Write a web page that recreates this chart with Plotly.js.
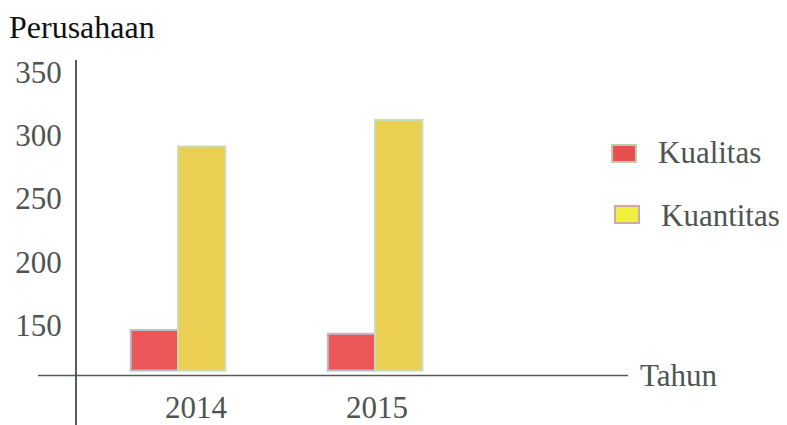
<!DOCTYPE html>
<html>
<head>
<meta charset="utf-8">
<script src="https://cdn.plot.ly/plotly-3.0.1.min.js"></script>
<style>html,body{margin:0;padding:0;background:#fff;}#chart{width:787px;height:425px;}</style>
</head>
<body>
<div id="chart"></div>
<script>
// ---- data ----
const years = ['2014', '2015'];
const kualitas = [146, 143];
const kuantitas = [291, 312];
const seriesNames = ['Kualitas', 'Kuantitas'];
const yTicks = [150, 200, 250, 300, 350];
const yTitle = 'Perusahaan';
const xTitle = 'Tahun';

// ---- layout helpers (pixel -> paper) ----
const W = 787, H = 425;
const L = 38, R = 628, T = 60, B = 425;
const px = x => (x - L) / (R - L);
const py = y => (B - y) / (B - T);

const BASE = 114;
const FONT = 'Liberation Serif, Times New Roman, serif';
const TXT = '#4e5451';
const AX = '#555c58';
const FS = 31;

const traces = [
  {
    type: 'bar', name: seriesNames[0], x: years,
    y: kualitas.map(v => v - BASE), base: BASE,
    marker: {color: '#ec5656', line: {color: '#b9bdd0', width: 2}},
    showlegend: false
  },
  {
    type: 'bar', name: seriesNames[1], x: years,
    y: kuantitas.map(v => v - BASE), base: BASE,
    marker: {color: '#ebcf52', line: {color: '#c9dcb2', width: 2}},
    showlegend: false
  }
];

const layout = {
  width: W, height: H,
  margin: {l: L, r: W - R, t: T, b: H - B, pad: 0},
  paper_bgcolor: '#ffffff', plot_bgcolor: 'rgba(0,0,0,0)',
  barmode: 'group', bargap: 0.52, bargroupgap: 0,
  font: {family: FONT, color: TXT, size: FS},
  xaxis: {
    type: 'category', range: [-0.711, 2.284],
    showline: false, showgrid: false, zeroline: false, showticklabels: false, ticks: ''
  },
  yaxis: {
    range: [71, 359.3], domain: [0, 1],
    anchor: 'free', position: px(75),
    tickvals: yTicks, ticktext: yTicks.map(String),
    ticks: '', ticklabelstandoff: 7,
    tickfont: {family: FONT, size: FS, color: TXT},
    showline: true, linecolor: AX, linewidth: 1.5,
    showgrid: false, zeroline: false
  },
  shapes: [
    {type: 'line', xref: 'paper', yref: 'y', x0: 0, x1: 1, y0: 110, y1: 110,
     line: {color: AX, width: 1.5}},
    // legend swatches
    {type: 'rect', xref: 'paper', yref: 'paper', x0: px(612), x1: px(636), y0: py(162), y1: py(145),
     fillcolor: '#e94f4f', line: {color: '#b9d2ab', width: 2}},
    {type: 'rect', xref: 'paper', yref: 'paper', x0: px(615), x1: px(639), y0: py(223), y1: py(206),
     fillcolor: '#eef03e', line: {color: '#d3aaa2', width: 2}}
  ],
  annotations: [
    {xref: 'paper', yref: 'paper', x: px(7), y: py(27), xanchor: 'left', yanchor: 'middle',
     text: yTitle, showarrow: false, font: {family: FONT, size: 32, color: '#111'}},
    {xref: 'paper', yref: 'y', x: px(638), y: 110, xanchor: 'left', yanchor: 'middle',
     text: xTitle, showarrow: false, font: {family: FONT, size: FS, color: TXT}},
    {xref: 'paper', yref: 'paper', x: px(656), y: py(152), xanchor: 'left', yanchor: 'middle',
     text: seriesNames[0], showarrow: false, font: {family: FONT, size: FS, color: TXT}},
    {xref: 'paper', yref: 'paper', x: px(659), y: py(215), xanchor: 'left', yanchor: 'middle',
     text: seriesNames[1], showarrow: false, font: {family: FONT, size: FS, color: TXT}},
    ...years.map((yr, i) => ({
      xref: 'x', yref: 'paper', x: i, y: py(407), xanchor: 'center', yanchor: 'middle',
      xshift: i === 0 ? 18 : 2,
      text: yr, showarrow: false, font: {family: FONT, size: FS, color: TXT}
    }))
  ]
};

Plotly.newPlot('chart', traces, layout, {displayModeBar: false, staticPlot: true});
</script>
</body>
</html>
